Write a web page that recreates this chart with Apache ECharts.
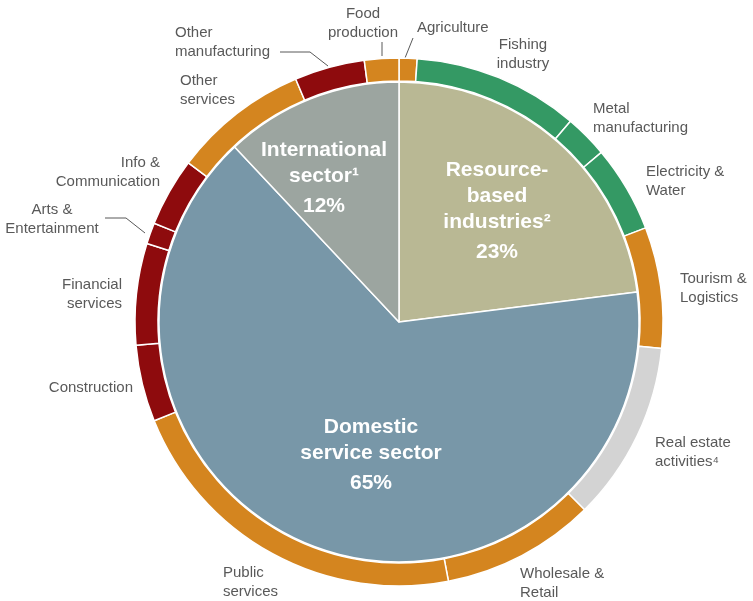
<!DOCTYPE html>
<html>
<head>
<meta charset="utf-8">
<script src="https://cdn.jsdelivr.net/npm/echarts@6/dist/echarts.min.js"></script>
<style>
html,body{margin:0;padding:0;background:#fff;}
#chart{width:753px;height:601px;}
</style>
</head>
<body>
<div id="chart"></div>
<script>
// Inner ring: sectors
const sectorNames = ['Resource-\nbased\nindustries²', 'Domestic\nservice sector', 'International\nsector¹'];
const sectorValues = [23, 65, 12];
const sectorColors = ['#B9B894', '#7897A8', '#9CA5A0'];

// Outer ring: industries (clockwise from 12 o'clock)
const industryNames = ['Agriculture', 'Fishing\nindustry', 'Metal\nmanufacturing', 'Electricity &\nWater',
  'Tourism &\nLogistics', 'Real estate\nactivities⁴', 'Wholesale &\nRetail', 'Public\nservices',
  'Construction', 'Financial\nservices', 'Arts &\nEntertainment', 'Info &\nCommunication',
  'Other\nservices', 'Other\nmanufacturing', 'Food\nproduction'];
const industryValues = [1.1, 10.15, 2.65, 5.3, 7.4, 11.0, 9.4, 21.9, 4.7, 6.2, 1.3, 4.2, 8.3, 4.3, 2.1];
const industryGroups = ['o', 'g', 'g', 'g', 'o', 's', 'o', 'o', 'r', 'r', 'r', 'r', 'o', 'r', 'o'];

const groupColor = {o: '#D4851F', g: '#349964', r: '#8E0B0D', s: '#D3D3D3'};

// label placement (layout only)
const outerLabelPos = {
  'Agriculture': [417, 28, 'left'],
  'Fishing\nindustry': [523, 54, 'center'],
  'Metal\nmanufacturing': [593, 118, 'left'],
  'Electricity &\nWater': [646, 181, 'left'],
  'Tourism &\nLogistics': [680, 288, 'left'],
  'Real estate\nactivities⁴': [655, 452, 'left'],
  'Wholesale &\nRetail': [520, 583, 'left'],
  'Public\nservices': [223, 582, 'left'],
  'Construction': [133, 388, 'right'],
  'Financial\nservices': [122, 294, 'right'],
  'Arts &\nEntertainment': [52, 219, 'center'],
  'Info &\nCommunication': [160, 172, 'right'],
  'Other\nservices': [180, 90, 'left'],
  'Other\nmanufacturing': [175, 42, 'left'],
  'Food\nproduction': [363, 23, 'center']
};
// leader lines (layout only)
const leaderLines = {
  'Agriculture': [[405, 58], [409, 48], [413, 38]],
  'Food\nproduction': [[382, 56], [382, 49], [382, 42]],
  'Other\nmanufacturing': [[328, 66], [310, 52], [280, 52]],
  'Arts &\nEntertainment': [[145, 233], [126, 218], [105, 218]]
};
const innerLabelPos = {
  'Resource-\nbased\nindustries²': [497, 211],
  'Domestic\nservice sector': [371, 455],
  'International\nsector¹': [324, 178]
};

const chart = echarts.init(document.getElementById('chart'), null, {renderer: 'canvas'});
const font = '"Liberation Sans", Arial, sans-serif';

const innerData = sectorNames.map((n, i) => ({
  name: n, value: sectorValues[i], itemStyle: {color: sectorColors[i]}
}));
const outerData = industryNames.map((n, i) => ({
  name: n, value: industryValues[i],
  itemStyle: {color: groupColor[industryGroups[i]]},
  label: {align: outerLabelPos[n][2]},
  labelLine: {show: !!leaderLines[n]}
}));

chart.setOption({
  animation: false,
  backgroundColor: '#fff',
  series: [
    {
      type: 'pie',
      center: [399, 322],
      radius: [0, 240],
      startAngle: 90,
      clockwise: true,
      silent: true,
      itemStyle: {borderColor: '#fff', borderWidth: 1.5},
      label: {
        show: true,
        position: 'inside',
        fontFamily: font,
        fontSize: 21,
        fontWeight: 'bold',
        color: '#fff',
        lineHeight: 26,
        align: 'center',
        formatter: p => p.name + '\n{p|' + p.value + '%}',
        rich: {p: {fontFamily: font, fontSize: 21, fontWeight: 'bold', color: '#fff', lineHeight: 30, padding: [4, 0, 0, 0]}}
      },
      labelLayout: p => {
        const pos = innerLabelPos[sectorNames[p.dataIndex]];
        return {x: pos[0], y: pos[1], align: 'center', verticalAlign: 'middle'};
      },
      data: innerData
    },
    {
      type: 'pie',
      center: [399, 322],
      radius: [241, 264],
      startAngle: 90,
      clockwise: true,
      silent: true,
      itemStyle: {borderColor: '#fff', borderWidth: 1.5},
      label: {
        show: true,
        position: 'outside',
        alignTo: 'none',
        overflow: 'none',
        fontFamily: font,
        fontSize: 15,
        lineHeight: 19,
        color: '#595959',
        formatter: p => p.name
      },
      labelLine: {length: 8, length2: 20, lineStyle: {color: '#595959', width: 1}},
      labelLayout: p => {
        const n = industryNames[p.dataIndex];
        const pos = outerLabelPos[n];
        const o = {x: pos[0], y: pos[1], align: pos[2], verticalAlign: 'middle', width: 140};
        if (leaderLines[n]) o.labelLinePoints = leaderLines[n];
        return o;
      },
      data: outerData
    }
  ]
});
</script>
</body>
</html>
